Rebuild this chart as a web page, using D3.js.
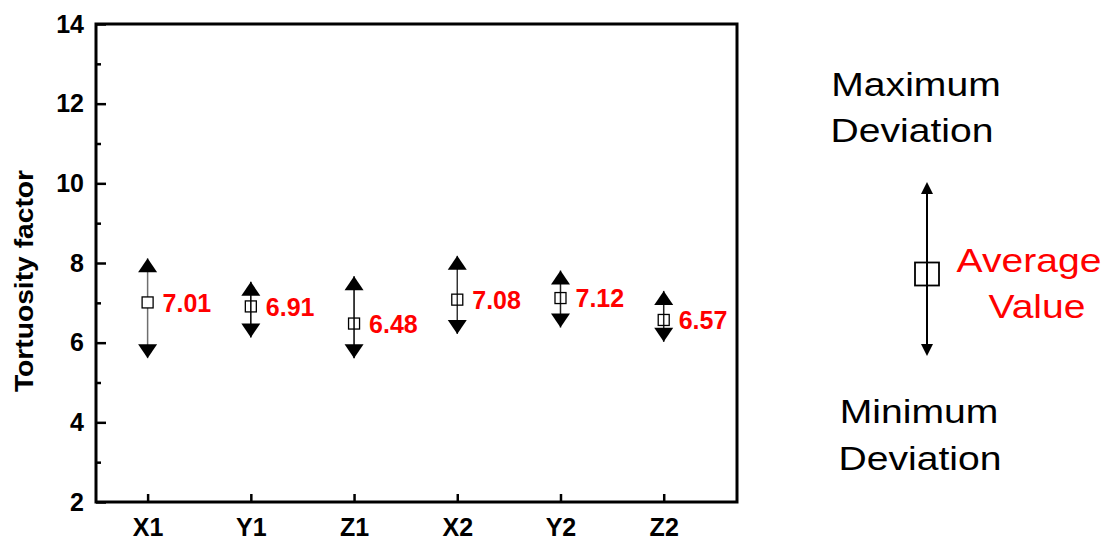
<!DOCTYPE html>
<html>
<head>
<meta charset="utf-8">
<script src="https://cdn.jsdelivr.net/npm/d3@7"></script>
<style>
  html, body { margin: 0; padding: 0; background: #fff; }
  svg { display: block; }
  text { font-family: "Liberation Sans", Arial, sans-serif; }
</style>
</head>
<body>
<svg id="chart" width="1113" height="546"></svg>
<script>
// Tortuosity factor per sample direction: average with max / min deviation
const categories = ["X1", "Y1", "Z1", "X2", "Y2", "Z2"];
const averages   = [7.01, 6.91, 6.48, 7.08, 7.12, 6.57];
const maxima     = [8.12, 7.53, 7.67, 8.18, 7.81, 7.30];
const minima     = [5.61, 6.13, 5.61, 6.22, 6.38, 6.02];
const yTicks     = [2, 4, 6, 8, 10, 12, 14];
const yMinorTicks = [3, 5, 7, 9, 11, 13];

(function draw() {
  const svg = d3.select("#chart");
  const plotLeft = 96, plotRight = 737, plotTop = 24, plotBottom = 502;

  const x = d3.scaleLinear().domain([0.5, 6.71]).range([plotLeft, plotRight]);
  const y = d3.scaleLinear().domain([2, 14]).range([plotBottom, plotTop]);

  const rows = categories.map((c, i) => ({
    cat: c, pos: i + 1, avg: averages[i], max: maxima[i], min: minima[i]
  }));

  // Frame
  svg.append("rect")
    .attr("x", plotLeft).attr("y", plotTop)
    .attr("width", plotRight - plotLeft).attr("height", plotBottom - plotTop)
    .attr("fill", "none").attr("stroke", "#000").attr("stroke-width", 3);

  // Y axis (ticks pointing inward)
  const yAxis = d3.axisLeft(y).tickValues(yTicks).tickSize(-10).tickPadding(12)
    .tickFormat(d3.format("d"));
  const gy = svg.append("g").attr("transform", `translate(${plotLeft},0)`).call(yAxis);
  gy.select(".domain").remove();
  gy.selectAll(".tick line").attr("stroke", "#000").attr("stroke-width", 2.5);
  gy.selectAll(".tick text")
    .attr("font-size", 25).attr("font-weight", "bold").attr("fill", "#000")
    .attr("font-family", "'Liberation Sans', Arial, sans-serif")
    .attr("dy", "0.33em");

  const yMinor = d3.axisLeft(y).tickValues(yMinorTicks).tickSize(-5).tickFormat("");
  const gym = svg.append("g").attr("transform", `translate(${plotLeft},0)`).call(yMinor);
  gym.select(".domain").remove();
  gym.selectAll(".tick line").attr("stroke", "#000").attr("stroke-width", 2.5);

  // X axis (category ticks pointing inward)
  const xAxis = d3.axisBottom(x).tickValues(rows.map(r => r.pos)).tickSize(-8).tickPadding(16)
    .tickFormat(d => categories[d - 1]);
  const gx = svg.append("g").attr("transform", `translate(0,${plotBottom})`).call(xAxis);
  gx.select(".domain").remove();
  gx.selectAll(".tick line").attr("stroke", "#000").attr("stroke-width", 2.5);
  gx.selectAll(".tick text")
    .attr("font-size", 25).attr("font-weight", "bold").attr("fill", "#000")
    .attr("font-family", "'Liberation Sans', Arial, sans-serif")
    .attr("dy", "0.71em");

  // Y axis title
  svg.append("text")
    .attr("transform", `translate(33,281) rotate(-90) scale(1.13,1)`)
    .attr("text-anchor", "middle")
    .attr("font-size", 25).attr("font-weight", "bold").attr("fill", "#000")
    .text("Tortuosity factor");

  // Deviation bars
  const lineColors = ["#6e6e6e", "#000", "#000", "#333", "#222", "#222"];
  const triW = 19, triH = 14, box = 11;

  const g = svg.append("g").selectAll("g").data(rows).join("g");

  g.append("line")
    .attr("x1", d => x(d.pos)).attr("x2", d => x(d.pos))
    .attr("y1", d => y(d.max)).attr("y2", d => y(d.min))
    .attr("stroke", (d, i) => lineColors[i]).attr("stroke-width", 1.5);

  // up arrowhead with its tip on the maximum
  g.append("path")
    .attr("d", d => {
      const cx = x(d.pos), ty = y(d.max);
      return `M${cx},${ty} L${cx + triW / 2},${ty + triH} L${cx - triW / 2},${ty + triH} Z`;
    })
    .attr("fill", "#000");

  // down arrowhead with its tip on the minimum
  g.append("path")
    .attr("d", d => {
      const cx = x(d.pos), ty = y(d.min);
      return `M${cx},${ty} L${cx + triW / 2},${ty - triH} L${cx - triW / 2},${ty - triH} Z`;
    })
    .attr("fill", "#000");

  // average marker
  g.append("rect")
    .attr("x", d => x(d.pos) - box / 2).attr("y", d => y(d.avg) - box / 2)
    .attr("width", box).attr("height", box)
    .attr("fill", (d, i) => i === 0 ? "#fff" : "none")
    .attr("stroke", "#000").attr("stroke-width", 1.3);

  // value labels
  g.append("text")
    .attr("x", d => x(d.pos) + 15).attr("y", d => y(d.avg))
    .attr("dy", "0.37em")
    .attr("font-size", 25).attr("font-weight", "bold").attr("fill", "#f00")
    .text(d => d3.format(".2f")(d.avg));

  // Key
  const key = svg.append("g");
  const kx = 927, kTop = 182, kBot = 356, kMid = 274;
  key.append("line").attr("x1", kx).attr("x2", kx).attr("y1", kTop + 4).attr("y2", kBot - 4)
    .attr("stroke", "#000").attr("stroke-width", 2);
  key.append("path").attr("d", `M${kx},${kTop} L${kx + 6},${kTop + 12} L${kx - 6},${kTop + 12} Z`).attr("fill", "#000");
  key.append("path").attr("d", `M${kx},${kBot} L${kx + 6},${kBot - 12} L${kx - 6},${kBot - 12} Z`).attr("fill", "#000");
  key.append("rect").attr("x", kx - 12).attr("y", kMid - 11.5).attr("width", 24).attr("height", 23)
    .attr("fill", "none").attr("stroke", "#000").attr("stroke-width", 1.8);

  const keyLabels = [
    { t: "Maximum", x: 916, y: 96, c: "#000" },
    { t: "Deviation", x: 912, y: 142, c: "#000" },
    { t: "Minimum", x: 919, y: 423, c: "#000" },
    { t: "Deviation", x: 920, y: 470, c: "#000" },
    { t: "Average", x: 1029, y: 272, c: "#f00" },
    { t: "Value", x: 1037, y: 318, c: "#f00" }
  ];
  key.selectAll("text.k").data(keyLabels).join("text")
    .attr("class", "k")
    .attr("transform", d => `translate(${d.x},${d.y}) scale(1.15,1)`)
    .attr("text-anchor", "middle")
    .attr("font-size", 34).attr("fill", d => d.c)
    .text(d => d.t);
})();
</script>
</body>
</html>
